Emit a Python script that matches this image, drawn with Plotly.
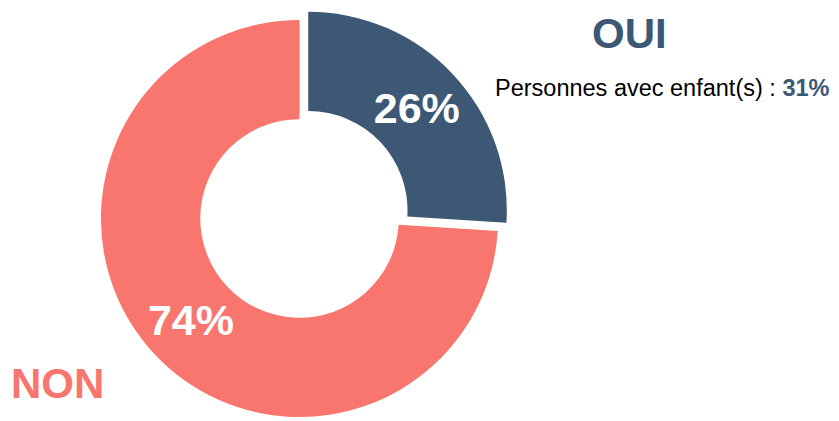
import plotly.graph_objects as go


BLUE = "#3D5875"
SALMON = "#F8766D"
WHITE = "#FFFFFF"
FONT = "Liberation Sans, Arial, sans-serif"

labels = ["OUI", "NON"]
values = [26, 74]
pct_text = ["26%", "74%"]
colors = [BLUE, SALMON]
pulls = [0.06, 0]

share_label = "Personnes avec enfant(s) : "
share_value = "31%"


fig = go.Figure(
    go.Pie(
        labels=labels,
        values=values,
        text=pct_text,
        textinfo="text",
        textposition="inside",
        insidetextorientation="horizontal",
        textfont=dict(family=FONT, size=43, color=WHITE, weight="bold"),
        marker=dict(colors=colors, line=dict(width=0)),
        pull=pulls,
        hole=0.5,
        sort=False,
        direction="clockwise",
        rotation=0,
        domain=dict(x=[0, 0.695], y=[0, 1]),
        hoverinfo="skip",
    )
)

fig.add_annotation(
    text="<b>OUI</b>",
    x=0.7405,
    y=0.94,
    xref="paper",
    yref="paper",
    xanchor="center",
    yanchor="middle",
    showarrow=False,
    font=dict(family=FONT, size=42, color=BLUE),
)

fig.add_annotation(
    text=share_label + f"<b><span style='color:{BLUE}'>{share_value}</span></b>",
    x=0.578,
    y=0.81,
    xref="paper",
    yref="paper",
    xanchor="left",
    yanchor="middle",
    showarrow=False,
    font=dict(family=FONT, size=23.5, color="#000000"),
)

fig.add_annotation(
    text="<b>NON</b>",
    x=0.059,
    y=0.107,
    xref="paper",
    yref="paper",
    xanchor="center",
    yanchor="middle",
    showarrow=False,
    font=dict(family=FONT, size=42, color=SALMON),
)

fig.update_layout(
    width=839,
    height=421,
    showlegend=False,
    paper_bgcolor=WHITE,
    plot_bgcolor=WHITE,
    margin=dict(l=0, r=0, t=0, b=0),
)

fig.write_html("out.html")
